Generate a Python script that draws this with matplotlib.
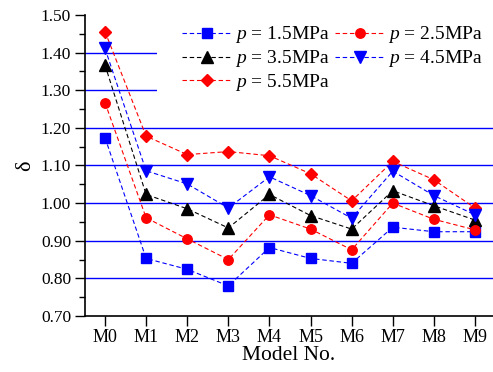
import matplotlib.pyplot as plt
import numpy as np
from matplotlib.ticker import MultipleLocator

plt.rcParams["font.family"] = ["Liberation Serif", "DejaVu Serif"]
plt.rcParams["mathtext.fontset"] = "custom"
plt.rcParams["mathtext.it"] = "Liberation Serif:italic"
plt.rcParams["mathtext.rm"] = "Liberation Serif"

models = ["M0", "M1", "M2", "M3", "M4", "M5", "M6", "M7", "M8", "M9"]
p15 = [1.174, 0.853, 0.824, 0.780, 0.882, 0.853, 0.840, 0.936, 0.924, 0.924]
p25 = [1.267, 0.961, 0.905, 0.850, 0.969, 0.931, 0.876, 1.000, 0.957, 0.929]
p35 = [1.367, 1.023, 0.985, 0.934, 1.023, 0.967, 0.931, 1.033, 0.993, 0.955]
p45 = [1.411, 1.086, 1.051, 0.987, 1.070, 1.020, 0.960, 1.085, 1.020, 0.969]
p55 = [1.456, 1.178, 1.129, 1.137, 1.126, 1.078, 1.006, 1.111, 1.062, 0.987]
grid_levels = [0.8, 0.9, 1.0, 1.1, 1.2, 1.3, 1.4]

W, H = 493, 372
fig = plt.figure(figsize=(W / 100, H / 100), dpi=100)
ax = fig.add_axes([85 / W, 1 - 316 / H, 1 - 85 / W, (316 - 15) / H])

x = np.arange(len(models))
dash = (0, (4, 2.5))
# column-first order so the legend reads 1.5 / 2.5 on the first row
series = [
    (p15, "blue", "s", 7, "$p$ = 1.5MPa"),
    (p35, "black", "^", 8, "$p$ = 3.5MPa"),
    (p55, "red", "D", 6, "$p$ = 5.5MPa"),
    (p25, "red", "o", 6.8, "$p$ = 2.5MPa"),
    (p45, "blue", "v", 8, "$p$ = 4.5MPa"),
]

for lvl in grid_levels:
    ax.axhline(lvl, color="blue", lw=1.0, zorder=1)

for vals, col, mk, ms, lab in series:
    ax.plot(x, vals, linestyle=dash, lw=0.8, color=col, marker=mk,
            markersize=ms, markerfacecolor=col, markeredgecolor=col,
            label=lab, zorder=3)

ax.set_xlim(-0.4865, 9.438)
ax.set_ylim(0.7, 1.5)
ax.set_xticks(x)
ax.set_xticklabels(models)
ax.yaxis.set_major_locator(MultipleLocator(0.1))
ax.yaxis.set_minor_locator(MultipleLocator(0.05))
ax.yaxis.set_major_formatter(plt.FuncFormatter(lambda v, p: f"{v:.2f}"))
ax.tick_params(axis="both", which="major", direction="out", length=7,
               width=1, pad=2)
ax.tick_params(axis="x", labelsize=13)
ax.tick_params(axis="y", labelsize=12.5, pad=3)
ax.tick_params(axis="y", which="minor", direction="out", length=4, width=1)
for s in ["top", "right"]:
    ax.spines[s].set_visible(False)
for s in ["left", "bottom"]:
    ax.spines[s].set_linewidth(1.2)

ax.set_xlabel("Model No.", fontsize=15.5, labelpad=0)
ax.set_ylabel("δ", fontsize=16, labelpad=4)

leg = ax.legend(ncol=2, loc="upper left",
                bbox_to_anchor=(157 / W, 1 + 0.3 / H),
                bbox_transform=fig.transFigure, fontsize=14,
                handlelength=2.58, handletextpad=0.17, columnspacing=0.25,
                labelspacing=0.15, borderpad=1.27, borderaxespad=0,
                frameon=True, fancybox=False, framealpha=1)
leg.get_frame().set_facecolor("white")
leg.get_frame().set_edgecolor("none")
leg.set_zorder(2)

fig.savefig("out.png", dpi=100)
